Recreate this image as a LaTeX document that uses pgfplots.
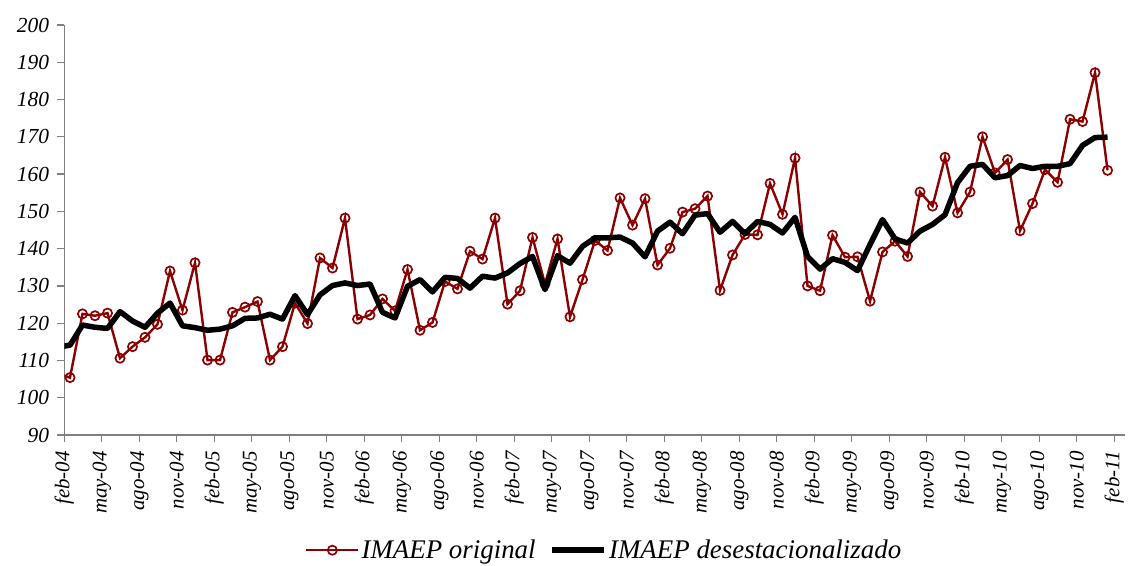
\documentclass[border=0pt]{standalone}
\usepackage{pgfplots}
\pgfplotsset{compat=1.18}
\usepackage{pgfplotstable}
\usepackage{fontspec}
\setmainfont{Liberation Serif}
\definecolor{imred}{RGB}{139,0,0}
\definecolor{axgray}{RGB}{128,128,128}

\pgfplotstableread{
k red black
-0.556 106.0 113.8
0 105.4 114.1
1 122.5 119.5
2 122.0 118.9
3 122.7 118.6
4 110.6 123.1
5 113.7 120.6
6 116.2 118.9
7 119.7 122.7
8 134.0 125.4
9 123.5 119.3
10 136.2 118.8
11 110.1 118.1
12 110.1 118.4
13 122.9 119.3
14 124.3 121.3
15 125.8 121.4
16 110.1 122.4
17 113.7 121.1
18 125.4 127.4
19 119.9 122.3
20 137.5 127.6
21 134.8 130.1
22 148.2 130.8
23 121.1 130.1
24 122.2 130.5
25 126.5 122.9
26 123.3 121.4
27 134.4 129.9
28 118.1 131.7
29 120.2 128.4
30 131.2 132.3
31 129.2 132.0
32 139.3 129.4
33 137.2 132.6
34 148.2 132.1
35 125.1 133.5
36 128.7 136.0
37 143.0 137.9
38 130.5 129.0
39 142.6 138.1
40 121.7 136.1
41 131.7 140.6
42 142.2 142.9
43 139.5 142.9
44 153.6 143.1
45 146.3 141.5
46 153.4 137.8
47 135.6 144.7
48 140.1 147.1
49 149.8 144.0
50 150.7 149.0
51 154.1 149.4
52 128.8 144.4
53 138.3 147.3
54 143.8 144.0
55 143.7 147.3
56 157.5 146.5
57 149.2 144.2
58 164.3 148.4
59 130.0 137.9
60 128.7 134.5
61 143.6 137.3
62 137.7 136.3
63 137.8 134.1
64 125.9 141.1
65 139.1 147.8
66 142.0 142.6
67 137.9 141.5
68 155.2 144.7
69 151.4 146.5
70 164.5 149.1
71 149.6 157.7
72 155.2 162.1
73 170.0 162.6
74 160.3 159.0
75 163.9 159.6
76 144.8 162.3
77 152.1 161.5
78 161.2 162.1
79 157.8 162.1
80 174.7 162.8
81 174.1 167.7
82 187.2 169.8
83 161.0 169.9
}\imaep

\begin{document}
\begin{tikzpicture}
\path[use as bounding box] (0,0) rectangle (1129bp,566bp);
\begin{axis}[
  at={(64.3bp,131bp)}, anchor=south west,
  scale only axis,
  width=1060.7bp, height=410bp,
  xmin=0, xmax=84.85,
  ymin=90, ymax=200,
  axis x line=bottom, axis y line=left,
  axis line style={-, axgray, line width=1.2bp},
  tick style={axgray, line width=1.2bp},
  tick align=outside,
  major tick length=7bp,
  xtick={0,3,...,84},
  xticklabels={feb-04,may-04,ago-04,nov-04,feb-05,may-05,ago-05,nov-05,feb-06,may-06,ago-06,nov-06,feb-07,may-07,ago-07,nov-07,feb-08,may-08,ago-08,nov-08,feb-09,may-09,ago-09,nov-09,feb-10,may-10,ago-10,nov-10,feb-11},
  ytick={90,100,...,200},
  yticklabels={90,100,110,120,130,140,150,160,170,180,190,200},
  xticklabel style={rotate=90, anchor=east, font=\itshape\fontsize{21}{21}\selectfont, inner sep=0bp, xshift=-9bp},
  yticklabel style={font=\itshape\fontsize{21.5}{21.5}\selectfont, inner sep=0bp, xshift=-8bp},
  clip marker paths=true,
  legend columns=2,
  legend style={at={(0.509,-0.281)}, anchor=center, draw=none, fill=none,
    font=\itshape\fontsize{27}{27}\selectfont,
    /tikz/every even column/.append style={column sep=12bp}},
  legend image code/.code={\draw[mark repeat=2,mark phase=2] plot coordinates {(0bp,0bp) (26bp,0bp) (52bp,0bp)};},
]
\addplot[imred, line width=2.4bp, mark=o, mark size=4.6bp, mark options={fill=white, line width=1.7bp, solid}]
  table[x expr=\thisrow{k}+0.456, y=red] {\imaep};
\addlegendentry{IMAEP original}
\addplot[black, line width=5.5bp, no markers, line join=round]
  table[x expr=\thisrow{k}+0.456, y=black] {\imaep};
\addlegendentry{IMAEP desestacionalizado}
\end{axis}
\end{tikzpicture}
\end{document}
